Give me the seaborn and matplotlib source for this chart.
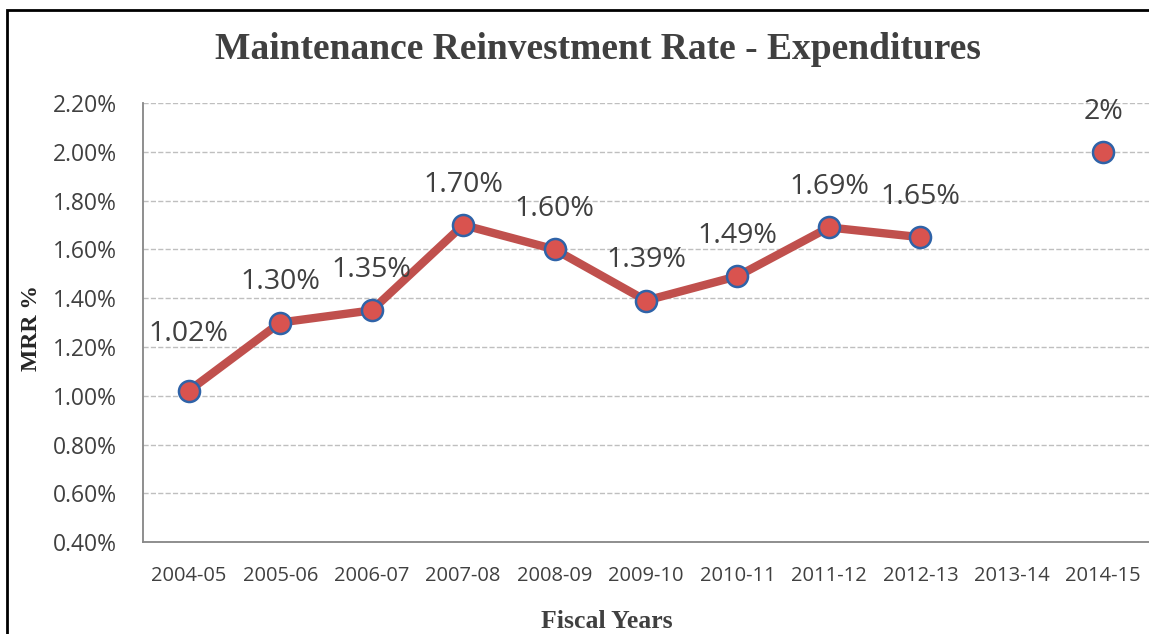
import numpy as np
import pandas as pd
import matplotlib.pyplot as plt
import seaborn as sns

years = ['2004-05', '2005-06', '2006-07', '2007-08', '2008-09', '2009-10',
         '2010-11', '2011-12', '2012-13', '2013-14', '2014-15']
mrr = [1.02, 1.30, 1.35, 1.70, 1.60, 1.39, 1.49, 1.69, 1.65, np.nan, 2.00]
labels = ['1.02%', '1.30%', '1.35%', '1.70%', '1.60%', '1.39%', '1.49%',
          '1.69%', '1.65%', '', '2%']

df = pd.DataFrame({'pos': range(len(years)), 'year': years, 'mrr': mrr, 'label': labels})

sns.set_style('white')
fig = plt.figure(figsize=(11.49, 6.34), dpi=100)
ax = fig.add_axes([0.1245, 0.145, 0.8755, 0.6925])

# line only through consecutive years (2013-14 missing)
line_df = df.iloc[:9]
sns.lineplot(data=line_df, x='pos', y='mrr', color='#C0504D', linewidth=6, ax=ax)
sns.scatterplot(data=df.dropna(), x='pos', y='mrr', s=230, color='#D9534F',
                edgecolor='#2F63A8', linewidth=1.8, zorder=5, ax=ax)

for _, r in df.dropna().iterrows():
    off = 41 if r['pos'] == 0 else 29
    ax.annotate(r['label'], (r['pos'], r['mrr']), xytext=(0, off), textcoords='offset points',
                ha='center', va='center', fontsize=20.5, color='#404040', family='Open Sans')

ax.set_xlim(-0.5, 10.5)
ax.set_ylim(0.4, 2.2)
ax.set_xticks(range(len(years)))
ax.set_xticklabels(years, family='Open Sans', fontsize=14.5, color='#404040')
yt = np.arange(0.4, 2.21, 0.2)
ax.set_yticks(yt)
ax.set_yticklabels([f'{v:.2f}%' for v in yt], family='Open Sans', fontsize=16.5, color='#404040')
ax.tick_params(axis='both', length=5, color='#868686', direction='out')
ax.tick_params(axis='x', pad=12)
ax.tick_params(axis='y', pad=14)
ax.yaxis.grid(True, linestyle='--', color='#BFBFBF', linewidth=1)
ax.set_axisbelow(True)
for s in ['top', 'right']:
    ax.spines[s].set_visible(False)
for s in ['left', 'bottom']:
    ax.spines[s].set_color('#868686')
    ax.spines[s].set_linewidth(1.3)

ax.set_xlabel('')
ax.set_ylabel('')
fig.text(0.528, 0.019, 'Fiscal Years', ha='center', va='center',
         family='Liberation Serif', fontsize=18.5, fontweight='bold', color='#404040')
fig.text(0.027, 0.483, 'MRR %', ha='center', va='center', rotation=90,
         family='Liberation Serif', fontsize=17, fontweight='bold', color='#262626')
fig.text(0.52, 0.922, 'Maintenance Reinvestment Rate - Expenditures', ha='center', va='center',
         family='Liberation Serif', fontsize=27, fontweight='bold', color='#404040')

# figure border
fig.patches.append(plt.Rectangle((0.0065, -0.01), 1.2, 0.994, transform=fig.transFigure,
                                 fill=False, edgecolor='black', linewidth=2))

fig.savefig('out.png', dpi=100)
